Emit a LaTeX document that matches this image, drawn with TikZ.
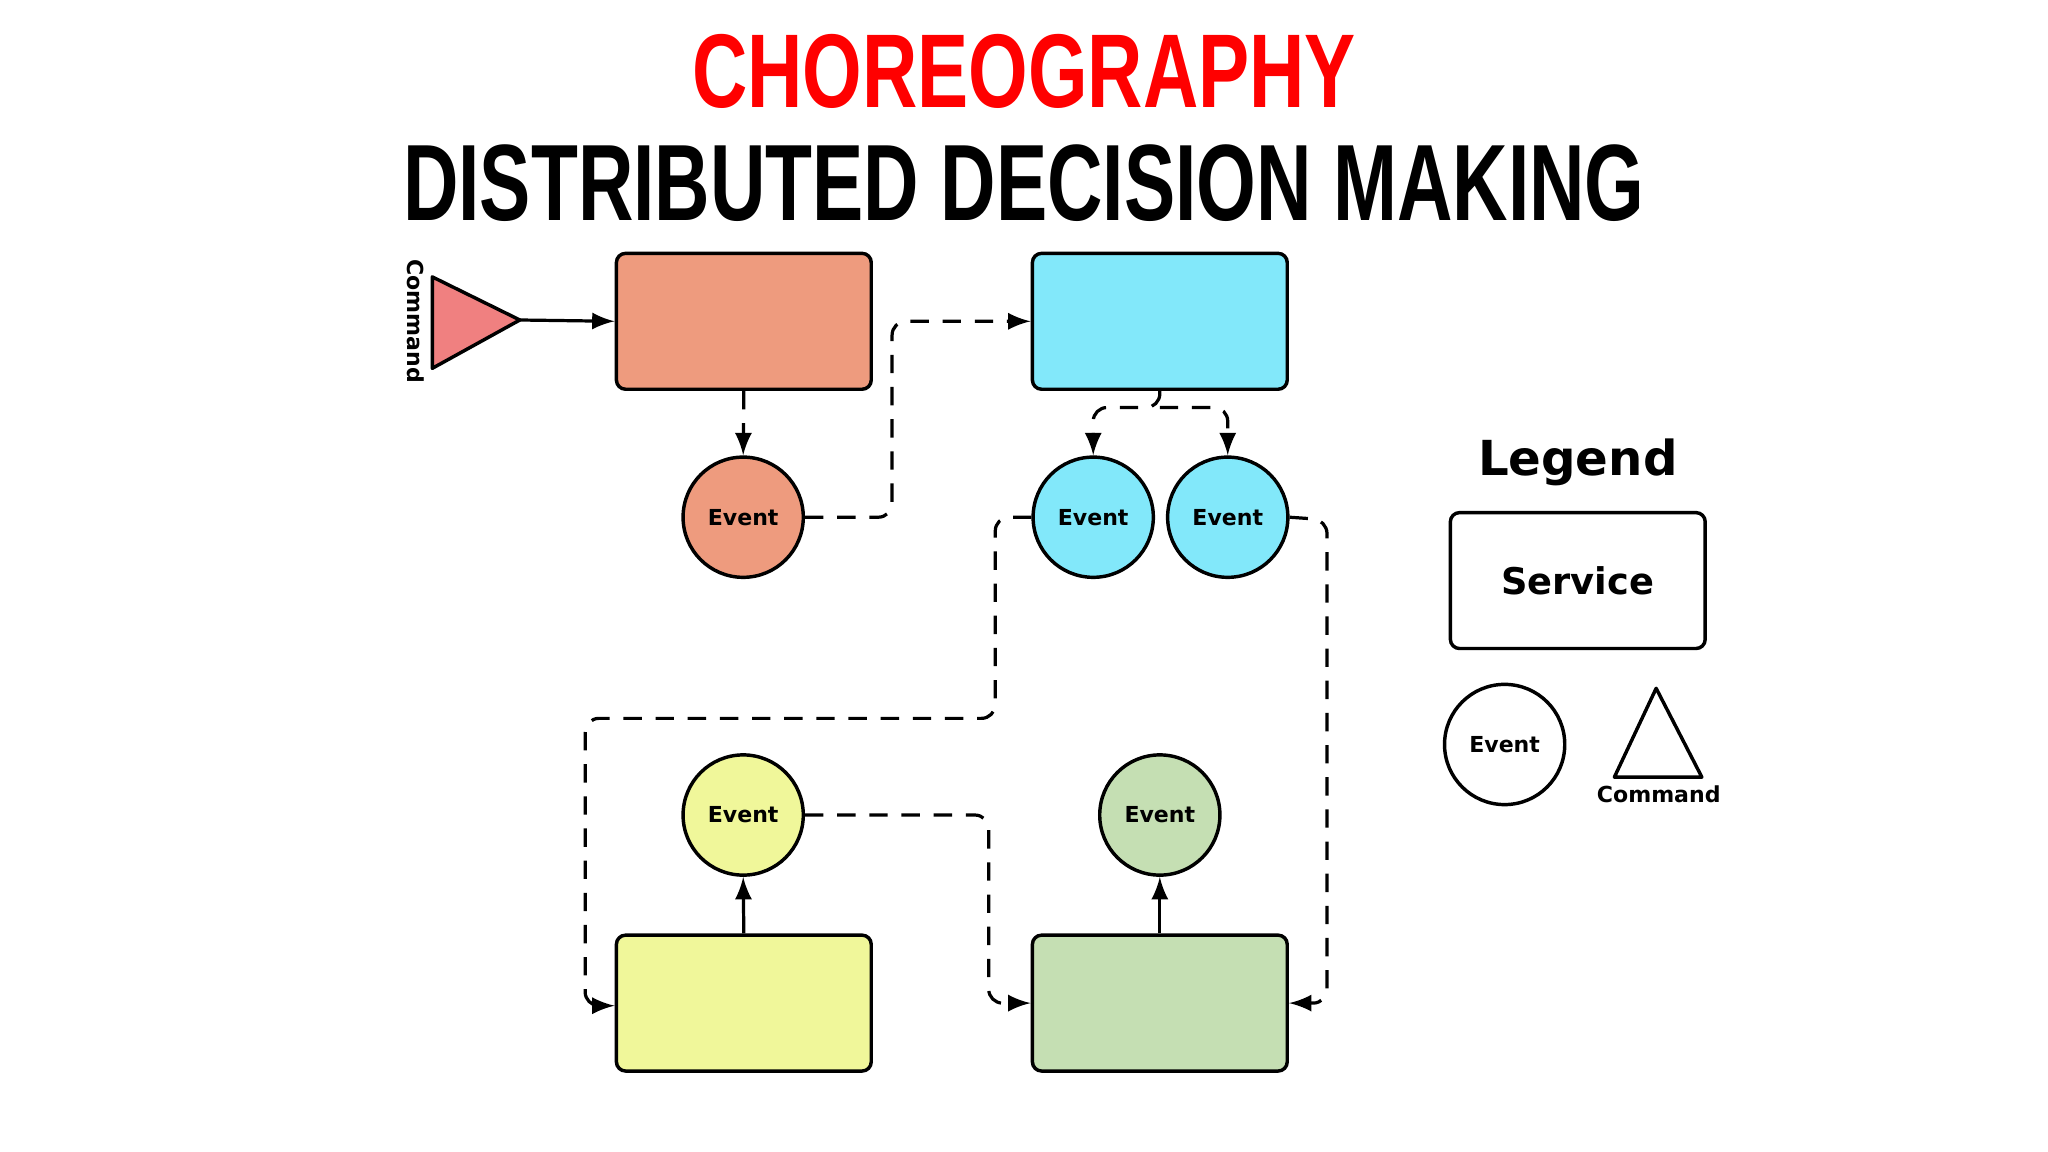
\documentclass[tikz,border=0pt]{standalone}
\usepackage{fontspec}
\setmainfont{DejaVu Sans}
\newfontfamily\titlefont{Liberation Sans}
\begin{document}
\begin{tikzpicture}[x=0.01cm,y=-0.01cm,
  svc/.style={draw=black,line width=0.75pt,rounded corners=2pt,minimum width=1.95cm,minimum height=1.04cm,inner sep=0pt},
  ev/.style={draw=black,line width=0.75pt,circle,minimum size=0.92cm,inner sep=0pt,font=\bfseries\fontsize{4.8}{5}\selectfont},
  conn/.style={line width=0.7pt,-latex,rounded corners=3pt},
  dconn/.style={conn,dash pattern=on 4pt off 3pt}]
\useasboundingbox (0,0) rectangle (1568,882);
\fill[white] (0,0) rectangle (1568,882);
\definecolor{cor}{HTML}{EE9B7E}\definecolor{cbl}{HTML}{82E8FA}
\definecolor{cye}{HTML}{F0F79A}\definecolor{cgr}{HTML}{C5DFB3}
\node (t1) at (784,55) {\resizebox{5.08cm}{0.56cm}{\titlefont\bfseries\color{red}CHOREOGRAPHY}};
\node (t2) at (784,140) {\resizebox{9.5cm}{0.58cm}{\titlefont\bfseries DISTRIBUTED DECISION MAKING}};
% services
\node[svc,fill=cor] (so) at (569.5,246) {};
\node[svc,fill=cbl] (sb) at (888,246) {};
\node[svc,fill=cye] (sy) at (569.5,768) {};
\node[svc,fill=cgr] (sg) at (888,768) {};
% events
\node[ev,fill=cor] (eo) at (569,396) {Event};
\node[ev,fill=cbl] (eb1) at (837,396) {Event};
\node[ev,fill=cbl] (eb2) at (940,396) {Event};
\node[ev,fill=cye] (ey) at (569,624) {Event};
\node[ev,fill=cgr] (eg) at (888,624) {Event};
% command
\coordinate (ct) at (398,245);
\draw[line width=0.75pt,fill={rgb,255:red,240;green,128;blue,128},line join=round] (331,212) -- (331,282) -- (ct) -- cycle;
\node[rotate=-90,font=\bfseries\fontsize{4.8}{5}\selectfont] (cl) at (318,246) {Command};
% connectors
\draw[conn] (ct) -- (so.west);
\draw[dconn] (so.south) -- (eo.north);
\draw[dconn] (eo.east) -- (683,396) -- (683,246) -- (sb.west);
\coordinate (sp) at (888,312);
\draw[dconn] (sb.south) -- (sp) -| (eb1.north);
\draw[dconn] (sp) -| (eb2.north);
\draw[dconn] (eb1.west) -- (762,396) -- (762,550) -- (448,550) -- (448,770) -- (sy.west|-0,770);
\draw[dconn] (eb2.east) -- (1016,398) -- (1016,768) -- (sg.east);
\draw[conn] (sy.north) -- (ey.south);
\draw[dconn] (ey.east) -- (757,624) -- (757,768) -- (sg.west);
\draw[conn] (sg.north) -- (eg.south);
% legend
\node[font=\bfseries\fontsize{10.5}{12}\selectfont] (lg) at (1208,354) {Legend};
\node[svc,fill=white,font=\bfseries\fontsize{8}{9}\selectfont] (ls) at (1208,444.5) {Service};
\node[ev,fill=white] (le) at (1152,570) {Event};
\draw[line width=0.75pt,line join=round] (1268,527) -- (1236,595) -- (1303,595) -- cycle;
\node[font=\bfseries\fontsize{4.8}{5}\selectfont] (lc) at (1270,608) {Command};
\end{tikzpicture}
\end{document}
